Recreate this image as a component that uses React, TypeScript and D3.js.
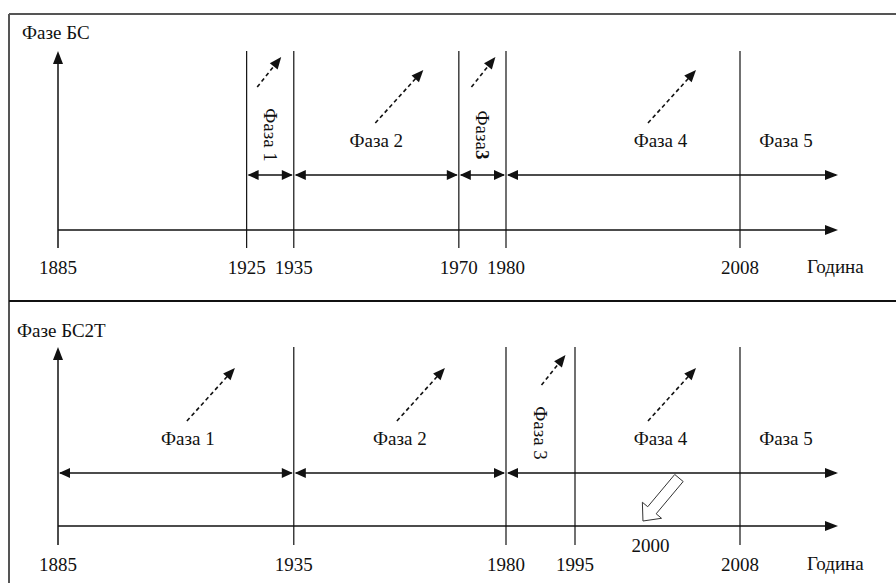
import React, { useEffect, useRef } from 'react';
import { select, scaleLinear, line } from 'd3';

// years marked on each timeline
const topYears = [1885, 1925, 1935, 1970, 1980, 2008];
const bottomYears = [1885, 1935, 1980, 1995, 2008];

// phase boundaries (last phase runs to the end of the axis)
const topBounds = [1925, 1935, 1970, 1980];
const bottomBounds = [1885, 1935, 1980];

const topLabels = ['Фаза 1', 'Фаза 2', 'Фаза3', 'Фаза 4', 'Фаза 5'];
const bottomLabels = ['Фаза 1', 'Фаза 2', 'Фаза 3', 'Фаза 4', 'Фаза 5'];

// year span each label is centred in (null = axis end)
const topLabelSpans: [number, number | null][] = [[1925, 1935], [1935, 1970], [1970, 1980], [1995, 2008], [2008, null]];
const bottomLabelSpans: [number, number | null][] = [[1885, 1935], [1935, 1980], [1980, 1995], [1995, 2008], [2008, null]];

const topVertical = [true, false, true, false, false];
const bottomVertical = [false, false, true, false, false];

const markedYear = 2000;

const FONT = 'Liberation Serif';
const AXIS_END = 838;

const App = () => {
  const svgRef = useRef(null);

  useEffect(() => {
    const svg = select(svgRef.current);
    svg.selectAll('*').remove();

    // schematic (non-linear) time axis
    const x = scaleLinear().domain([1885, 1980, 1995, 2008]).range([58, 506, 575, 740]);
    const pos = (v: number | null) => (v === null ? AXIS_END : x(v));

    // frame
    svg.append('line').attr('x1', 9).attr('y1', 14).attr('x2', 896).attr('y2', 14).attr('stroke', '#555').attr('stroke-width', 2);
    svg.append('line').attr('x1', 9).attr('y1', 14).attr('x2', 9).attr('y2', 583).attr('stroke', '#555').attr('stroke-width', 2);
    svg.append('line').attr('x1', 9).attr('y1', 301).attr('x2', 896).attr('y2', 301).attr('stroke', '#111').attr('stroke-width', 2);

    const tri = (tx: number, ty: number, dx: number, dy: number, L = 11, W = 10) => {
      const len = Math.hypot(dx, dy);
      const ux = dx / len, uy = dy / len;
      const nx = -uy, ny = ux;
      const bx = tx - ux * L, by = ty - uy * L;
      return `M${tx},${ty}L${bx + nx * W / 2},${by + ny * W / 2}L${bx - nx * W / 2},${by - ny * W / 2}Z`;
    };

    const dashedArrow = (x1: number, y1: number, x2: number, y2: number) => {
      const len = Math.hypot(x2 - x1, y2 - y1);
      const ux = (x2 - x1) / len, uy = (y2 - y1) / len;
      svg.append('line')
        .attr('x1', x1).attr('y1', y1)
        .attr('x2', x2 - ux * 10).attr('y2', y2 - uy * 10)
        .attr('stroke', '#111').attr('stroke-width', 1.6).attr('stroke-dasharray', '4,3');
      svg.append('path').attr('d', tri(x2, y2, x2 - x1, y2 - y1, 12, 10)).attr('fill', '#111');
    };

    const panels = [
      {
        title: 'Фазе БС', titleX: 22, titleY: 39, lineTop: 51, lineBottom: 248,
        phaseY: 175, axisY: 230, tickY: 274,
        years: topYears, bounds: topBounds, labels: topLabels, spans: topLabelSpans,
        vertical: topVertical, labelDx: [0, 0, 0, 3, -3], arrowDx: [-13, -1, -11, -12.5, 0],
        marked: false,
      },
      {
        title: 'Фазе БС2Т', titleX: 17, titleY: 337, lineTop: 347, lineBottom: 545,
        phaseY: 473, axisY: 526, tickY: 571,
        years: bottomYears, bounds: bottomBounds, labels: bottomLabels, spans: bottomLabelSpans,
        vertical: bottomVertical, labelDx: [12, 0, 0, 3, -3], arrowDx: [-1, -3, 1, -12.5, 0],
        marked: true,
      },
    ];

    panels.forEach((p) => {
      const g = svg.append('g');

      g.append('text').attr('x', p.titleX).attr('y', p.titleY).text(p.title)
        .style('font-family', FONT).attr('font-size', 19).attr('fill', '#111');

      // vertical year lines (first one is the y axis with an arrow)
      p.years.forEach((yr, i) => {
        g.append('line')
          .attr('x1', x(yr)).attr('x2', x(yr))
          .attr('y1', i === 0 ? p.lineTop + 8 : p.lineTop).attr('y2', p.lineBottom)
          .attr('stroke', '#111').attr('stroke-width', i === 0 ? 1.5 : 1.2);
        if (i === 0) g.append('path').attr('d', tri(x(yr), p.lineTop, 0, -1, 13, 10)).attr('fill', '#111');

        g.append('text').attr('x', x(yr)).attr('y', p.tickY).text(yr)
          .attr('text-anchor', 'middle').style('font-family', FONT).attr('font-size', 19).attr('fill', '#111');
      });

      // horizontal time axis
      g.append('line').attr('x1', x(p.years[0])).attr('x2', AXIS_END - 8)
        .attr('y1', p.axisY).attr('y2', p.axisY).attr('stroke', '#111').attr('stroke-width', 1.5);
      g.append('path').attr('d', tri(AXIS_END, p.axisY, 1, 0, 13, 10)).attr('fill', '#111');
      g.append('text').attr('x', 807).attr('y', p.tickY - 1).text('Година')
        .style('font-family', FONT).attr('font-size', 19).attr('fill', '#111');

      // phase span arrows
      const ends = [...p.bounds, null];
      for (let i = 0; i < p.bounds.length; i++) {
        const a = pos(ends[i]);
        const b = pos(ends[i + 1]);
        g.append('line').attr('x1', a + 2).attr('x2', b - 2)
          .attr('y1', p.phaseY).attr('y2', p.phaseY).attr('stroke', '#111').attr('stroke-width', 1.5);
        g.append('path').attr('d', tri(a + 1, p.phaseY, -1, 0)).attr('fill', '#111');
        g.append('path').attr('d', tri(b - (ends[i + 1] === null ? 0 : 1), p.phaseY, 1, 0, ends[i + 1] === null ? 13 : 11)).attr('fill', '#111');
      }

      // phase labels with dashed arrows
      p.labels.forEach((lab, i) => {
        const [s0, s1] = p.spans[i];
        const cx = (pos(s0) + pos(s1)) / 2 + p.labelDx[i];
        const isLast = i === p.labels.length - 1;
        if (p.vertical[i]) {
          const cy = p.phaseY - 40;
          const t = g.append('text')
            .attr('transform', `translate(${cx},${cy}) rotate(90)`)
            .attr('text-anchor', 'middle').attr('dy', '0.35em')
            .style('font-family', FONT).attr('font-size', 19).attr('fill', '#111');
          if (lab === 'Фаза3') {
            t.append('tspan').text('Фаза');
            t.append('tspan').text('3').attr('font-weight', 'bold');
          } else {
            t.text(lab);
          }
          const sx = cx + p.arrowDx[i];
          dashedArrow(sx, p.phaseY - 88, sx + 24, p.phaseY - 118);
        } else {
          g.append('text').attr('x', cx).attr('y', p.phaseY - 28).text(lab)
            .attr('text-anchor', 'middle').style('font-family', FONT).attr('font-size', 19).attr('fill', '#111');
          if (!isLast) {
            const sx = cx + p.arrowDx[i];
            dashedArrow(sx, p.phaseY - 52, sx + 48, p.phaseY - 105);
          }
        }
      });

      // hollow block arrow pointing at the marked year
      if (p.marked) {
        const tx = x(markedYear) + 4.5;
        const ty = p.axisY - 5;
        const sx = tx + 36, sy = ty - 43;
        const len = Math.hypot(tx - sx, ty - sy);
        const ux = (tx - sx) / len, uy = (ty - sy) / len;
        const nx = -uy, ny = ux;
        const sw = 11, hw = 25, hl = 14;
        const bx = tx - ux * hl, by = ty - uy * hl;
        const pts: [number, number][] = [
          [sx + nx * sw / 2, sy + ny * sw / 2],
          [bx + nx * sw / 2, by + ny * sw / 2],
          [bx + nx * hw / 2, by + ny * hw / 2],
          [tx, ty],
          [bx - nx * hw / 2, by - ny * hw / 2],
          [bx - nx * sw / 2, by - ny * sw / 2],
          [sx - nx * sw / 2, sy - ny * sw / 2],
        ];
        g.append('path').attr('d', (line()(pts) as string) + 'Z')
          .attr('fill', '#fff').attr('stroke', '#333').attr('stroke-width', 1);
        g.append('text').attr('x', x(markedYear) + 12).attr('y', p.axisY + 26).text(markedYear)
          .attr('text-anchor', 'middle').style('font-family', FONT).attr('font-size', 19).attr('fill', '#111');
      }
    });
  }, []);

  return (
    <svg ref={svgRef} width={896} height={583}
      style={{ position: 'absolute', left: 0, top: 0, background: '#fff' }} />
  );
};

export default App;
